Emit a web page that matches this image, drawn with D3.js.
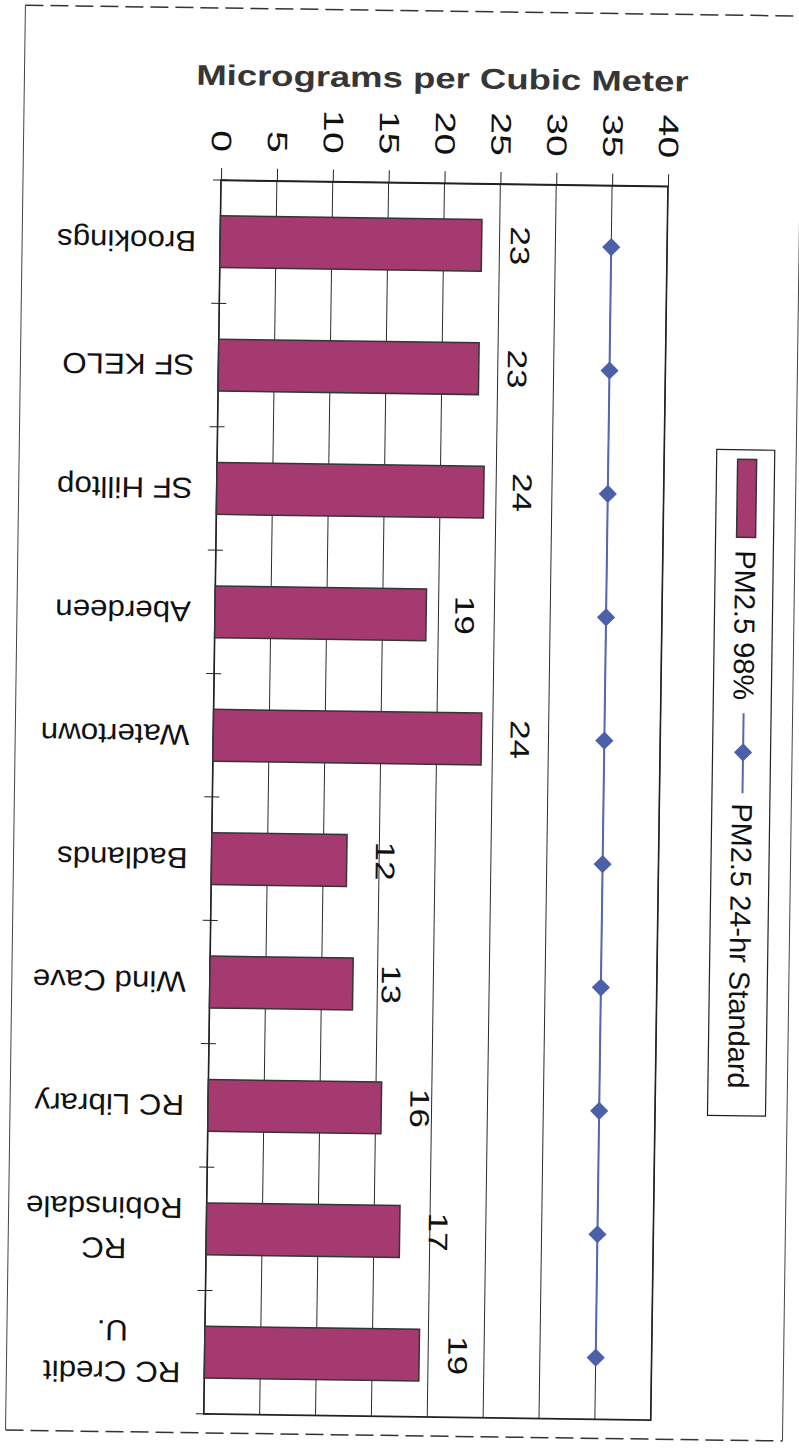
<!DOCTYPE html>
<html lang="en">
<head>
<meta charset="UTF-8">
<title>PM2.5 98th percentile by site</title>
<script src="https://d3js.org/d3.v7.min.js"></script>
<style>
  body { margin: 0; background: #fff; }
  svg { display: block; font-family: "Liberation Sans", Arial, sans-serif; }
  .grid line { stroke: #2b2b2b; stroke-width: 1px; }
  .bar { fill: #a43a6f; stroke: #353535; stroke-width: 1.5px; }
  .std-line { fill: none; stroke: #5567b0; stroke-width: 2px; }
  .std-pt { fill: #4c5fa9; }
</style>
</head>
<body>
<script>
// categories, top to bottom ("\n" = wrapped label)
var sites = ["Brookings", "SF KELO", "SF Hilltop", "Aberdeen", "Watertown",
             "Badlands", "Wind Cave", "RC Library", "RC\nRobinsdale", "RC Credit\nU."];
// PM2.5 98th percentile
var pm98 = [23.4, 23.3, 23.9, 18.9, 24.0, 12.1, 12.8, 15.5, 17.3, 19.2];
// 24-hr standard
var standard24 = [35, 35, 35, 35, 35, 35, 35, 35, 35, 35];
var valueTicks = [0, 5, 10, 15, 20, 25, 30, 35, 40];
var seriesNames = ["PM2.5 98%", "PM2.5 24-hr Standard"];
var axisTitle = "Micrograms per Cubic Meter";

var W = 799, H = 1448;
var plot = {left: 221, top: 180, width: 447, height: 1234};
var tilt = 0.8; // the scanned page is a bit crooked

var svg = d3.select("body").append("svg")
    .attr("width", W)
    .attr("height", H);

var page = svg.append("g")
    .attr("transform", "rotate(" + tilt + "," + plot.left + "," + plot.top + ")");

// scales
var x = d3.scaleLinear().domain([0, 40]).range([plot.left, plot.left + plot.width]);
var y = d3.scaleBand().domain(sites)
    .range([plot.top, plot.top + plot.height])
    .paddingInner(0.58).paddingOuter(0.29);

// page frame (dashed top / bottom)
var frame = {x0: 23, y0: 8, x1: 800, y1: 1433};
page.append("line").attr("x1", frame.x0).attr("y1", frame.y0).attr("x2", frame.x1).attr("y2", frame.y0)
    .attr("stroke", "#333").attr("stroke-width", 1.5).attr("stroke-dasharray", "18,7");
page.append("line").attr("x1", frame.x0).attr("y1", frame.y1).attr("x2", frame.x1).attr("y2", frame.y1)
    .attr("stroke", "#333").attr("stroke-width", 1.5).attr("stroke-dasharray", "18,7");
page.append("line").attr("x1", frame.x0).attr("y1", frame.y0).attr("x2", frame.x0).attr("y2", frame.y1)
    .attr("stroke", "#444").attr("stroke-width", 1);
page.append("line").attr("x1", frame.x1).attr("y1", frame.y0).attr("x2", frame.x1).attr("y2", frame.y1)
    .attr("stroke", "#444").attr("stroke-width", 1);

// title
page.append("text")
    .attr("transform", "translate(441,85) scale(1.28,1)")
    .attr("text-anchor", "middle")
    .attr("font-size", 28.5)
    .attr("font-weight", "bold")
    .attr("fill", "#363636")
    .text(axisTitle);

// gridlines
page.append("g").attr("class", "grid")
    .selectAll("line").data(valueTicks).join("line")
    .attr("x1", function(d) { return x(d); })
    .attr("x2", function(d) { return x(d); })
    .attr("y1", plot.top)
    .attr("y2", plot.top + plot.height);

// value axis along the top
var xAxis = page.append("g")
    .attr("transform", "translate(0," + plot.top + ")")
    .call(d3.axisTop(x).tickValues(valueTicks).tickSizeInner(12).tickSizeOuter(0));
xAxis.select(".domain").attr("stroke", "#222").attr("stroke-width", 1.5);
xAxis.selectAll(".tick line").attr("stroke", "#222");
xAxis.selectAll(".tick text")
    .attr("y", null)
    .attr("dy", "0.36em")
    .attr("transform", "translate(0,-28) rotate(90) scale(1.4,1)")
    .attr("text-anchor", "end")
    .attr("font-size", 28)
    .attr("font-family", "'Liberation Sans', Arial, sans-serif")
    .attr("fill", "#111");

// plot border
page.append("rect")
    .attr("x", plot.left).attr("y", plot.top)
    .attr("width", plot.width).attr("height", plot.height)
    .attr("fill", "none").attr("stroke", "#222").attr("stroke-width", 1.6);

// category ticks on the left axis (band boundaries)
page.append("g").selectAll("line")
    .data(d3.range(sites.length + 1))
    .join("line")
    .attr("x1", plot.left - 8).attr("x2", plot.left + 7)
    .attr("y1", function(i) { return plot.top + i * y.step(); })
    .attr("y2", function(i) { return plot.top + i * y.step(); })
    .attr("stroke", "#222");

// bars
page.append("g").selectAll("rect").data(sites).join("rect")
    .attr("class", "bar")
    .attr("x", x(0))
    .attr("y", function(d) { return y(d); })
    .attr("width", function(d, i) { return x(pm98[i]) - x(0); })
    .attr("height", y.bandwidth());

// data labels
page.append("g").selectAll("text").data(sites).join("text")
    .attr("transform", function(d, i) {
        return "translate(" + (x(pm98[i]) + 29) + "," + (y(d) + y.bandwidth() / 2) + ") rotate(90) scale(1.3,1)";
    })
    .attr("text-anchor", "middle")
    .attr("font-size", 27)
    .attr("fill", "#111")
    .text(function(d, i) { return Math.round(pm98[i]); });

// category labels (upside down on the scan)
var cats = page.append("g").selectAll("g").data(sites).join("g")
    .attr("transform", function(d) {
        return "translate(" + (plot.left - 24) + "," + (y(d) + y.bandwidth() / 2) + ") rotate(180) scale(1.08,1)";
    });
cats.each(function(d) {
    var lines = d.split("\n");
    var t = d3.select(this).append("text")
        .attr("font-size", 29)
        .attr("text-anchor", "middle")
        .attr("fill", "#111");
    lines.forEach(function(s, i) {
        t.append("tspan").attr("x", 0).attr("y", (i - (lines.length - 1) / 2) * 41 + 10).text(s);
    });
    var w = d3.max(t.selectAll("tspan").nodes(), function(n) { return n.getComputedTextLength(); });
    t.selectAll("tspan").attr("x", w / 2);
});

// 24-hr standard line
var line = d3.line()
    .x(function(d) { return x(d); })
    .y(function(d, i) { return y(sites[i]) + y.bandwidth() / 2; });
page.append("path")
    .datum(standard24)
    .attr("class", "std-line")
    .attr("d", line);

var diamond = d3.symbol(d3.symbolSquare, 165);
page.append("g").selectAll("path").data(standard24).join("path")
    .attr("class", "std-pt")
    .attr("d", diamond)
    .attr("transform", function(d, i) {
        return "translate(" + x(d) + "," + (y(sites[i]) + y.bandwidth() / 2) + ") rotate(45)";
    });

// legend
var lg = page.append("g");
lg.append("rect")
    .attr("x", 720.5).attr("y", 442.5).attr("width", 58).attr("height", 666)
    .attr("fill", "#fff").attr("stroke", "#222").attr("stroke-width", 1.2);
lg.append("rect")
    .attr("class", "bar")
    .attr("x", 741.5).attr("y", 452).attr("width", 19).attr("height", 78);
lg.append("line")
    .attr("class", "std-line")
    .attr("x1", 751).attr("x2", 751).attr("y1", 706).attr("y2", 786);
lg.append("path")
    .attr("class", "std-pt")
    .attr("d", diamond)
    .attr("transform", "translate(751,745) rotate(45)");
lg.selectAll("text.lg").data(seriesNames).join("text")
    .attr("class", "lg")
    .attr("transform", function(d, i) { return "translate(751," + [543, 796][i] + ") rotate(90)"; })
    .attr("dy", "0.36em")
    .attr("font-size", 29)
    .attr("fill", "#111")
    .text(function(d) { return d; });
</script>
</body>
</html>
